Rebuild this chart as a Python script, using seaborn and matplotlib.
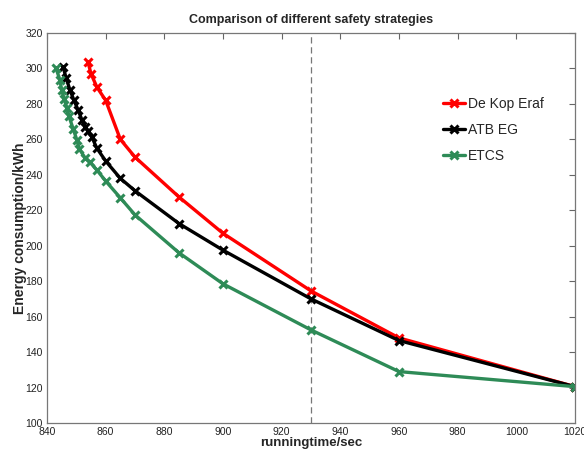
import matplotlib
matplotlib.use("Agg")
import matplotlib.pyplot as plt
import seaborn as sns
import pandas as pd

# Data
red_x = [854, 855, 857, 860, 865, 870, 885, 900, 930, 960, 1020]
red_y = [303.5, 297, 289.5, 282, 260, 250, 227.5, 207, 174.5, 148, 120.5]

black_x = [845.5, 846.5, 847.8, 849.2, 850.6, 851.9, 853, 854, 855.3, 857, 860, 865, 870, 885, 900, 930, 960, 1020]
black_y = [301, 294.6, 288, 282, 276.6, 271, 267, 264.7, 261.3, 255, 247.8, 238, 231, 212.5, 197.5, 170, 146.5, 120.5]

green_x = [843, 844.4, 845, 845.8, 846.8, 847.5, 848.9, 850.2, 851, 853, 854.7, 857, 860, 865, 870, 885, 900, 930, 960, 1020]
green_y = [300.5, 293.5, 288, 283, 277.7, 273, 266, 259.6, 254.6, 249.5, 247, 242.7, 236.5, 227, 217.4, 196, 178.5, 152.5, 129, 120.5]

series_names = ["De Kop Eraf", "ATB EG", "ETCS"]
colors = ["#ff0000", "#000000", "#2e8b57"]
vline_x = 930

x_ticks = list(range(840, 1021, 20))
y_ticks = list(range(100, 321, 20))

df = pd.concat([
    pd.DataFrame({"t": red_x, "e": red_y, "s": series_names[0]}),
    pd.DataFrame({"t": black_x, "e": black_y, "s": series_names[1]}),
    pd.DataFrame({"t": green_x, "e": green_y, "s": series_names[2]}),
], ignore_index=True)

sns.set_style("white")
plt.rcParams["font.family"] = ["Liberation Sans", "DejaVu Sans"]

fig = plt.figure(figsize=(5.84, 4.5), dpi=100)
ax = fig.add_axes([47 / 584, 27 / 450, 528 / 584, 390 / 450])

sns.lineplot(data=df, x="t", y="e", hue="s", palette=dict(zip(series_names, colors)),
             hue_order=series_names, marker="x", markersize=6, markeredgewidth=2.2,
             markeredgecolor="auto", linewidth=2.4, sort=False, estimator=None, ax=ax)

ax.axvline(vline_x, color="#777777", linestyle=(0, (5, 3)), linewidth=0.9, zorder=0)

ax.set_xlim(840, 1020)
ax.set_ylim(100, 320)
ax.set_xticks(x_ticks)
ax.set_yticks(y_ticks)
ax.tick_params(direction="in", length=4, width=0.8, color="#666666", labelsize=7.5,
               top=True, right=True, pad=3, labelcolor="#222222")
for sp in ax.spines.values():
    sp.set_visible(True)
    sp.set_color("#777777")
    sp.set_linewidth(0.9)

ax.set_title("Comparison of different safety strategies", fontsize=9, fontweight="bold", pad=7)
ax.set_xlabel("runningtime/sec", fontsize=9.5, fontweight="bold", labelpad=0)
ax.set_ylabel("Energy consumption/kWh", fontsize=10, fontweight="bold", labelpad=-1)

leg = ax.legend(loc="upper left", bbox_to_anchor=(0.74, 0.85), frameon=False, fontsize=10,
                handlelength=1.6, handletextpad=0.2, labelspacing=0.85, borderaxespad=0)

fig.savefig("out.png", dpi=100)
